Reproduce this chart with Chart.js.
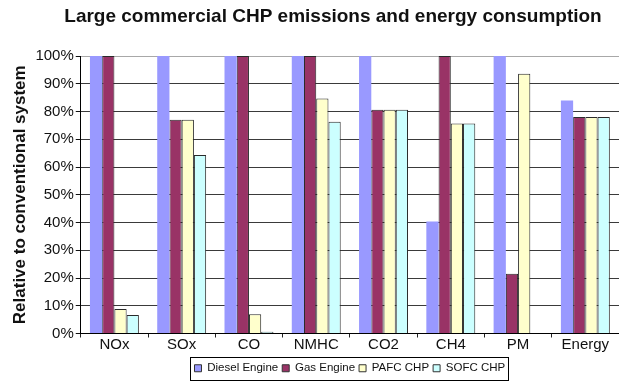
<!DOCTYPE html>
<html>
<head>
<meta charset="utf-8">
<script src="https://cdn.jsdelivr.net/npm/chart.js@4.4.1/dist/chart.umd.min.js"></script>
<style>
  html, body { margin: 0; padding: 0; background: #ffffff; overflow: hidden; }
  #wrap { width: 619px; height: 384px; }
</style>
</head>
<body>
<div id="wrap"><canvas id="chart" width="619" height="384"></canvas></div>
<script>
// Emissions and energy use of large commercial CHP units, relative to a conventional system (%)
const categories = ['NOx', 'SOx', 'CO', 'NMHC', 'CO2', 'CH4', 'PM', 'Energy'];
const seriesNames = ['Diesel Engine', 'Gas Engine', 'PAFC CHP', 'SOFC CHP'];
const dieselEngine = [100, 100, 100, 100, 100, 40.4, 100, 84];
const gasEngine    = [100, 77, 100, 100, 80.6, 100, 21.5, 78];
const pafcChp      = [8.8, 77, 6.9, 84.7, 80.6, 75.7, 93.6, 78];
const sofcChp      = [6.7, 64.3, 0.6, 76.3, 80.6, 75.7, null, 78];
const yTicks = [0, 10, 20, 30, 40, 50, 60, 70, 80, 90, 100];
const chartTitle = 'Large commercial CHP emissions and energy consumption';

const FONT = "'Liberation Sans', Arial, Helvetica, sans-serif";
const fills = ['#9999ff', '#993366', '#ffffcc', '#ccffff'];
const edges = ['#9999ff', '#2a2a2a', '#2a2a2a', '#2a2a2a'];
const edgeWidths = [0, 1, 1, 1];
const values = [dieselEngine, gasEngine, pafcChp, sofcChp];

const datasets = seriesNames.map((name, i) => ({
  label: name,
  data: values[i],
  backgroundColor: fills[i],
  borderColor: edges[i],
  borderWidth: edgeWidths[i],
  borderSkipped: 'bottom',
  categoryPercentage: 4 / 5.5,
  barPercentage: 1.0
}));

// Chart heading, centred slightly right of the canvas middle
const headline = {
  id: 'headline',
  afterDraw(chart) {
    const ctx = chart.ctx;
    ctx.save();
    ctx.fillStyle = '#111111';
    ctx.font = "bold 19px " + FONT;
    ctx.textAlign = 'center';
    ctx.textBaseline = 'alphabetic';
    ctx.fillText(chartTitle, 333, 22);
    ctx.restore();
  }
};

// Thin black frame drawn around the legend entries
const legendFrame = {
  id: 'legendFrame',
  afterDraw(chart) {
    const lg = chart.legend;
    if (!lg || !lg.legendHitBoxes || !lg.legendHitBoxes.length) return;
    const boxes = lg.legendHitBoxes;
    let l = Infinity, r = -Infinity, t = Infinity, b = -Infinity;
    boxes.forEach(h => {
      l = Math.min(l, h.left); r = Math.max(r, h.left + h.width);
      t = Math.min(t, h.top); b = Math.max(b, h.top + h.height);
    });
    const cy = (t + b) / 2;
    const ctx = chart.ctx;
    ctx.save();
    ctx.strokeStyle = '#000000';
    ctx.lineWidth = 1;
    ctx.strokeRect(Math.round(l - 4) + 0.5, Math.round(cy - 11.5) + 0.5,
                   Math.round(r - l + 7), 23);
    ctx.restore();
  }
};

new Chart(document.getElementById('chart'), {
  type: 'bar',
  data: { labels: categories, datasets },
  options: {
    responsive: false,
    animation: false,
    devicePixelRatio: 1,
    layout: { padding: { left: 10, right: 0, top: 56, bottom: 0 } },
    plugins: {
      title: { display: false },
      legend: {
        display: true,
        position: 'bottom',
        fullSize: false,
        labels: {
          font: { family: FONT, size: 11.5 },
          color: '#111111',
          boxWidth: 7,
          boxHeight: 7,
          padding: 4,
          generateLabels(chart) {
            return chart.data.datasets.map((ds, i) => ({
              text: ds.label,
              fillStyle: ds.backgroundColor,
              strokeStyle: '#333333',
              lineWidth: 1,
              hidden: false,
              datasetIndex: i,
              fontColor: '#111111'
            }));
          }
        }
      },
      tooltip: { enabled: false }
    },
    scales: {
      x: {
        offset: true,
        afterFit(axis) { axis.height += 7; },
        grid: {
          display: true,
          offset: true,
          drawOnChartArea: false,
          drawTicks: true,
          tickLength: 4,
          tickColor: '#222222'
        },
        border: { display: true, color: '#000000', width: 1 },
        ticks: {
          font: { family: FONT, size: 15 },
          color: '#111111',
          padding: -2,
          maxRotation: 0,
          autoSkip: false
        }
      },
      y: {
        min: 0,
        max: 100,
        afterBuildTicks(axis) {
          axis.ticks = yTicks.map(v => ({ value: v }));
        },
        grid: {
          color(ctx) {
            return ctx.tick && ctx.tick.value === 100 ? '#a8a8a8' : '#3a3a3a';
          },
          tickColor: '#111111',
          tickLength: 5,
          lineWidth: 1
        },
        border: { display: true, color: '#000000', width: 1 },
        ticks: {
          font: { family: FONT, size: 15 },
          color: '#111111',
          padding: 2,
          callback: v => v + '%'
        },
        title: {
          display: true,
          text: 'Relative to conventional system',
          color: '#111111',
          font: { family: FONT, size: 17, weight: 'bold' },
          padding: { top: 0, bottom: 3 }
        }
      }
    }
  },
  plugins: [headline, legendFrame]
});
</script>
</body>
</html>
